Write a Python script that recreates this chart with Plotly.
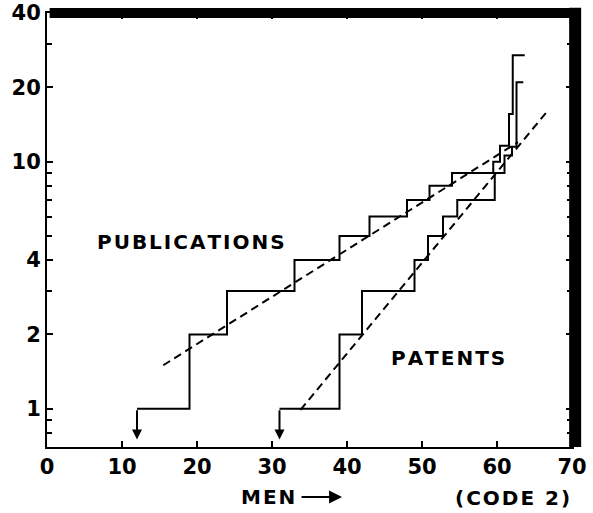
import math
import plotly.graph_objects as go

# Cumulative step curves: x where each step begins (last entry closes the curve), level reached
pub_x = [12, 19, 24, 33, 39, 43, 48, 51, 54, 59.5, 60.4, 61.6, 62.1, 63.7]
pub_y = [1, 2, 3, 4, 5, 6, 7, 8, 9, 10, 11.6, 15.6, 27, 27]

pat_x = [31, 39, 42, 49, 50.8, 52.8, 54.7, 59.7, 61.0, 62.0, 62.6, 63.5]
pat_y = [1, 2, 3, 4, 5, 6, 7, 9, 10.6, 11.5, 21, 21]

# Fitted exponential trends (end points)
pub_fit_x = [15.5, 62.8]
pub_fit_y = [1.5, 12.0]
pat_fit_x = [33.8, 66.7]
pat_fit_y = [0.99, 16.0]

# Axis ticks
x_ticks = [0, 10, 20, 30, 40, 50, 60, 70]
y_ticks = [1, 2, 4, 10, 20, 40]
y_minor = [0.8, 0.9, 3, 5, 6, 7, 8, 9, 30]
arrow_floor = 0.75

FONT = "DejaVu Sans"
HS = "\u200a"  # hair space for wide lettering


def spaced(s):
    return HS.join(s)


fig = go.Figure()

for xs, ys in ((pub_x, pub_y), (pat_x, pat_y)):
    fig.add_trace(go.Scatter(x=xs, y=ys, mode="lines", line=dict(color="black", width=2, shape="hv"),
                             showlegend=False, hoverinfo="skip"))

for xs, ys in ((pub_fit_x, pub_fit_y), (pat_fit_x, pat_fit_y)):
    fig.add_trace(go.Scatter(x=xs, y=ys, mode="lines", line=dict(color="black", width=2, dash="8px,5px"),
                             showlegend=False, hoverinfo="skip"))

annotations = []
# Down arrows at the start of each curve
for x0, y0 in ((pub_x[0], pub_y[0]), (pat_x[0], pat_y[0])):
    annotations.append(dict(x=x0, y=math.log10(arrow_floor), ax=x0, ay=math.log10(y0),
                            xref="x", yref="y", axref="x", ayref="y", text="",
                            showarrow=True, arrowhead=2, arrowsize=1.0, arrowwidth=2, arrowcolor="black"))

lab_font = dict(family=FONT, size=20, color="black", weight="bold")
annotations += [
    dict(x=0.275, y=0.472, xref="paper", yref="paper", text=spaced("PUBLICATIONS"),
         xanchor="center", yanchor="middle", showarrow=False, font=lab_font),
    dict(x=0.763, y=0.205, xref="paper", yref="paper", text=spaced("PATENTS"),
         xanchor="center", yanchor="middle", showarrow=False, font=lab_font),
    dict(x=0.366, y=-0.115, xref="paper", yref="paper", text=spaced("MEN"),
         xanchor="left", yanchor="middle", showarrow=False, font=lab_font),
    dict(x=0.562, y=-0.115, xref="paper", yref="paper", text="", ax=-42, ay=0,
         showarrow=True, arrowhead=2, arrowsize=1.3, arrowwidth=2, arrowcolor="black"),
    dict(x=0.886, y=-0.1175, xref="paper", yref="paper", text=spaced("(CODE 2)"),
         xanchor="center", yanchor="middle", showarrow=False, font=lab_font),
]

tick_font = dict(family=FONT, size=21, color="black", weight="bold")

fig.update_layout(
    width=593, height=513,
    margin=dict(l=47, r=21, t=13, b=66),
    paper_bgcolor="white", plot_bgcolor="white",
    annotations=annotations,
    shapes=[
        # heavy top and right frame
        dict(type="line", xref="paper", yref="paper", x0=0.005, x1=1.012, y0=1.0, y1=1.0,
             line=dict(color="black", width=10)),
        dict(type="line", xref="paper", yref="paper", x0=1.006, x1=1.006, y0=1.012, y1=0.0,
             line=dict(color="black", width=12)),
    ],
    xaxis=dict(range=[0, 70], tickmode="array", tickvals=x_ticks, ticktext=[str(v) for v in x_ticks],
               ticks="inside", ticklen=6, tickwidth=1.5, tickcolor="black",
               showline=True, linecolor="black", linewidth=2, mirror="ticks",
               showgrid=False, zeroline=False, tickfont=tick_font, automargin=False),
    yaxis=dict(type="log", range=[math.log10(0.70), math.log10(40)], tickmode="array",
               tickvals=y_ticks, ticktext=[str(v) for v in y_ticks],
               ticks="inside", ticklen=6, tickwidth=1.5, tickcolor="black",
               minor=dict(tickmode="array", tickvals=y_minor, ticks="inside", ticklen=5,
                          tickwidth=1.5, tickcolor="black", showgrid=False),
               showline=True, linecolor="black", linewidth=2, mirror="ticks",
               showgrid=False, zeroline=False, tickfont=tick_font, automargin=False),
)

fig.write_html("out.html")
